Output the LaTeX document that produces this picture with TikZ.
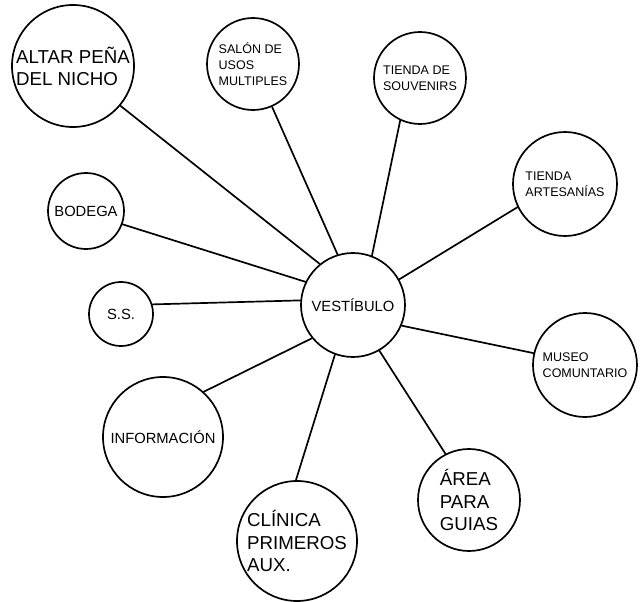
\documentclass[tikz,border=0pt]{standalone}
\usepackage{fontspec}
\setmainfont{Liberation Sans}
\newcommand{\letragrande}{\fontsize{13.3}{15.8}\selectfont}
\newcommand{\letramedia}{\fontsize{10.5}{12.5}\selectfont}
\newcommand{\letrachica}{\fontsize{8.9}{11.3}\selectfont}
\begin{document}
\begin{tikzpicture}[line join=round, line cap=round,
		sala/.style={circle, draw, line width=1.2pt, inner sep=0pt, align=left},
		enlace/.style={line width=1.2pt}]
	\useasboundingbox (0,0) rectangle (16.1,15.025);
	% centro
	\node[sala, minimum size=2.6cm, font=\letramedia] (vest) at (8.825,7.4) {VESTÍBULO};
	% salas alrededor
	\node[sala, minimum size=3.05cm, font=\letragrande] (altar) at (1.825,13.375) {ALTAR PEÑA\\DEL NICHO};
	\node[sala, minimum size=2.3cm, font=\letrachica] (salon) at (6.325,13.425) {SALÓN DE\\USOS\\MULTIPLES};
	\node[sala, minimum size=2.3cm, font=\letrachica] (souv) at (10.5,13.075) {TIENDA DE\\SOUVENIRS};
	\node[sala, minimum size=2.6cm, font=\letrachica] (artes) at (14.125,10.425) {TIENDA\\ARTESANÍAS};
	\node[sala, minimum size=1.9cm, font=\letramedia] (bodega) at (2.15,9.75) {BODEGA};
	\node[sala, minimum size=1.6cm, font=\letramedia] (ss) at (3.025,7.175) {S.S.};
	\node[sala, minimum size=2.6cm, font=\letrachica] (museo) at (14.625,5.9) {MUSEO\\COMUNTARIO};
	\node[sala, minimum size=3cm, font=\letramedia] (info) at (4.075,4.1) {INFORMACIÓN};
	\node[sala, minimum size=3cm, font=\letragrande] (clinica) at (7.425,1.5) {CLÍNICA\\PRIMEROS\\AUX.};
	\node[sala, minimum size=2.55cm, font=\letragrande] (area) at (11.725,2.525) {ÁREA\\PARA\\GUIAS};
	% enlaces
	\draw[enlace] (vest.129.5) -- (altar.-40);
	\draw[enlace] (vest.107.7) -- (salon.-66.6);
	\draw[enlace] (vest.69.8) -- (souv.245.6);
	\draw[enlace] (vest.29.6) -- (artes.206);
	\draw[enlace] (vest.154.9) -- (bodega.-20.2);
	\draw[enlace] (vest.175.6) -- (ss.17.4);
	\draw[enlace] (vest.-23) -- (museo.167.8);
	\draw[enlace] (vest.219.5) -- (info.48.4);
	\draw[enlace] (vest.250.2) -- (clinica.91.9);
	\draw[enlace] (vest.-60) -- (area.117);
\end{tikzpicture}
\end{document}
